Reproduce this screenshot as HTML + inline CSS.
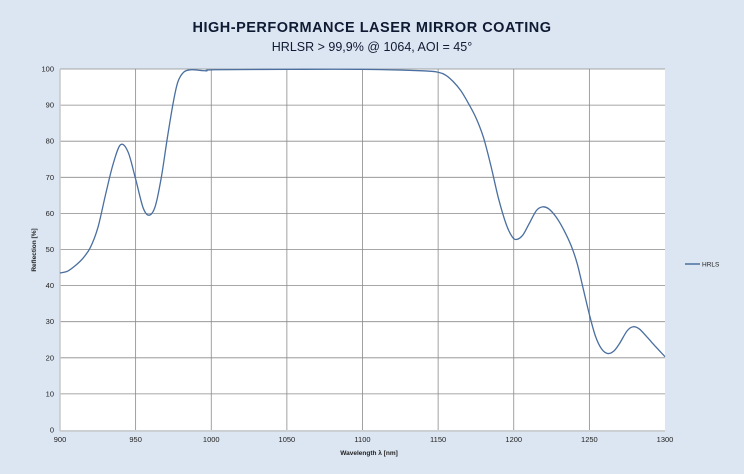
<!DOCTYPE html>
<html><head><meta charset="utf-8"><style>
body{margin:0;background:#dce6f2;}
svg{display:block;font-family:"Liberation Sans",sans-serif;}
</style></head><body>
<svg id="s" width="744" height="474" viewBox="0 0 744 474">
<rect width="744" height="474" fill="#dce6f2"/>
<text x="372" y="32" text-anchor="middle" font-size="14.5" font-weight="bold" fill="#0f1a33" letter-spacing="0.5">HIGH-PERFORMANCE LASER MIRROR COATING</text>
<text x="372" y="51" text-anchor="middle" font-size="12.5" fill="#0f1a33">HRLSR &gt; 99,9% @ 1064, AOI = 45°</text>
<rect x="60" y="69" width="605" height="361" fill="#fff"/>
<g id="grid" stroke="#8a8a8a" stroke-width="0.8"></g>
<g id="lab" font-size="7.5" fill="#222"></g>
<line x1="60" y1="69" x2="60" y2="431" stroke="#c8c8c8" stroke-width="1.5"/>
<line x1="60" y1="431" x2="665" y2="431" stroke="#c8c8c8" stroke-width="1.5"/>
<text x="36" y="250" font-size="6.5" font-weight="bold" fill="#222" transform="rotate(-90 36 250)" text-anchor="middle">Reflection [%]</text>
<text x="369" y="455" font-size="6.5" font-weight="bold" fill="#222" text-anchor="middle">Wavelength λ [nm]</text>
<path id="c" fill="none" stroke="#4a6fa0" stroke-width="1.3"/>
<line x1="685" y1="264" x2="700" y2="264" stroke="#4a6fa0" stroke-width="1.5"/>
<text x="702" y="266.5" font-size="6.5" fill="#222">HRLS</text>
</svg>
<script>
var X=function(n){return 60+(n-900)*605/400},Y=function(v){return 430-v*3.61};
var g=document.getElementById('grid'),l=document.getElementById('lab'),ns='http://www.w3.org/2000/svg';
function el(p,t,a,txt){var e=document.createElementNS(ns,t);for(var k in a)e.setAttribute(k,a[k]);if(txt)e.textContent=txt;p.appendChild(e);}
for(var v=0;v<=100;v+=10){var y=Y(v);if(v>0)el(g,'line',{x1:60,x2:665,y1:y,y2:y});el(l,'text',{x:54,y:y+2.5,'text-anchor':'end'},String(v));}
for(var n=900;n<=1300;n+=50){var x=X(n);if(n>900&&n<1300)el(g,'line',{x1:x,x2:x,y1:69,y2:430});el(l,'text',{x:x,y:442,'text-anchor':'middle'},String(n));}
var d=[[900,43.5],[905,44],[910,45.5],[915,47.5],[920,50.5],[925,56],[930,65],[935,73.5],[940,79],[945,77],[950,69.5],[955,61.5],[959,59.5],[963,62],[967,70],[971,81],[975,91],[978,96.5],[982,99.2],[987,99.8],[993,99.6],[997,99.5],[1002,99.8],[1050,99.9],[1100,99.9],[1140,99.5],[1150,99.1],[1155,98.3],[1160,96.5],[1165,94],[1170,90.5],[1175,86.5],[1180,81],[1185,73],[1190,64],[1195,57],[1199,53.5],[1202,52.8],[1206,54],[1210,57],[1215,60.8],[1219,61.8],[1223,61.3],[1228,59],[1233,55.5],[1238,51],[1242,46],[1246,39],[1250,32],[1254,26],[1258,22.5],[1262,21.2],[1266,21.8],[1270,24],[1275,27.5],[1279,28.6],[1283,28],[1288,25.8],[1294,23],[1300,20.3]];
var p=d.map(function(a){return[X(a[0]),Y(a[1])]});var s='M'+p[0];
for(var i=0;i<p.length-1;i++){var p0=p[i-1]||p[i],p1=p[i],p2=p[i+1],p3=p[i+2]||p2;
s+='C'+(p1[0]+(p2[0]-p0[0])/6)+','+(p1[1]+(p2[1]-p0[1])/6)+' '+(p2[0]-(p3[0]-p1[0])/6)+','+(p2[1]-(p3[1]-p1[1])/6)+' '+p2[0]+','+p2[1];}
document.getElementById('c').setAttribute('d',s);
</script>
</body></html>
